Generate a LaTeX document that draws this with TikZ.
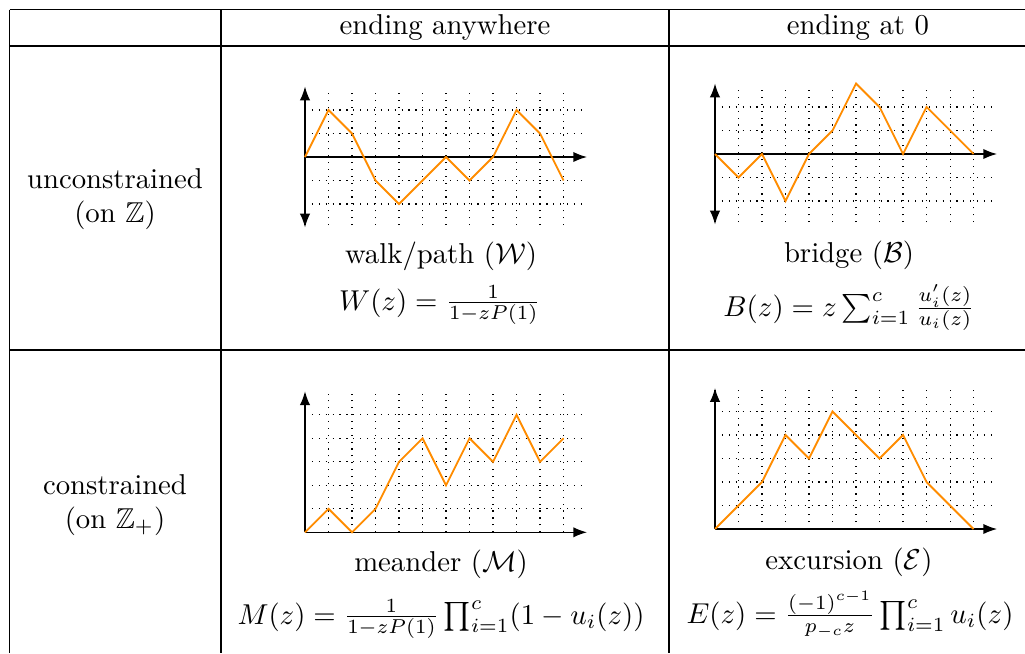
\documentclass[tikz,border=0pt]{standalone}
\usepackage{amsmath,amssymb}
\usetikzlibrary{arrows.meta}
\definecolor{walkorange}{RGB}{255,140,0}
\begin{document}
\begin{tikzpicture}[x=0.348pt,y=-0.348pt,
  rule/.style={line width=0.4pt},
  gridline/.style={dotted, line width=0.4pt, step=1},
  axis/.style={line width=0.5pt, -{Latex[length=4.8pt,width=3.6pt]}},
  axisboth/.style={line width=0.5pt, {Latex[length=4.8pt,width=3.6pt]}-{Latex[length=4.8pt,width=3.6pt]}},
  walkline/.style={walkorange, line width=0.65pt},
  lbl/.style={anchor=base, inner sep=0pt},
  plotunit/.style={x=8.18pt, y=8.18pt}]
\useasboundingbox (0,0) rectangle (1025,653);
% table rules
\coordinate (tl) at (9.5,9.5);
\coordinate (tr) at (1025,9.5);
\draw[rule] (tl) -- (tr);
\draw[rule] (9.5,46) -- (1025,46);
\draw[rule] (9.5,350) -- (1025,350);
\draw[rule] (9.5,9.5) -- (9.5,653);
\draw[rule] (221,9.5) -- (221,653);
\draw[rule] (669,9.5) -- (669,653);
% headers
\node[lbl] (h1) at (445,34) {ending anywhere};
\node[lbl] (h2) at (858,34) {ending at 0};
\node[align=center, inner sep=0pt] (r1) at (115,199) {unconstrained\\(on $\mathbb{Z}$)};
\node[align=center, inner sep=0pt] (r2) at (115,505) {constrained\\(on $\mathbb{Z}_+$)};
% walk
\begin{scope}[shift={(305,157)}, plotunit]
\draw[gridline] (0,-2.9) grid (11.8,2.9);
\draw[axis] (0,0) -- (12,0);
\draw[axisboth] (0,-3) -- (0,3);
\draw[walkline] (0,0) -- (1,2) -- (2,1) -- (3,-1) -- (4,-2) -- (5,-1) -- (6,0) -- (7,-1) -- (8,0) -- (9,2) -- (10,1) -- (11,-1);
\end{scope}
\node[lbl] (wl) at (441,263) {walk/path ($\mathcal{W}$)};
\node[lbl] (wf) at (440,310) {$W(z) = \frac{1}{1-zP(1)}$};
% bridge
\begin{scope}[shift={(715,154)}, plotunit]
\draw[gridline] (0,-2.9) grid (11.8,2.9);
\draw[axis] (0,0) -- (12,0);
\draw[axisboth] (0,-3) -- (0,3);
\draw[walkline] (0,0) -- (1,-1) -- (2,0) -- (3,-2) -- (4,0) -- (5,1) -- (6,3) -- (7,2) -- (8,0) -- (9,2) -- (10,1) -- (11,0);
\end{scope}
\node[lbl] (bl) at (849,262) {bridge ($\mathcal{B}$)};
\node[lbl] (bf) at (849,316) {$B(z) = z\sum_{i=1}^{c} \frac{u_i'(z)}{u_i(z)}$};
% meander
\begin{scope}[shift={(305,532.3)}, plotunit]
\draw[gridline] (0,0) grid (11.8,5.9);
\draw[axis] (0,0) -- (12,0);
\draw[axis] (0,0) -- (0,6);
\draw[walkline] (0,0) -- (1,1) -- (2,0) -- (3,1) -- (4,3) -- (5,4) -- (6,2) -- (7,4) -- (8,3) -- (9,5) -- (10,3) -- (11,4);
\end{scope}
\node[lbl] (ml) at (441,571) {meander ($\mathcal{M}$)};
\node[lbl] (mf) at (441,624) {$M(z) = \frac{1}{1-zP(1)}\prod_{i=1}^{c}(1-u_i(z))$};
% excursion
\begin{scope}[shift={(715,529)}, plotunit]
\draw[gridline] (0,0) grid (11.8,5.9);
\draw[axis] (0,0) -- (12,0);
\draw[axis] (0,0) -- (0,6);
\draw[walkline] (0,0) -- (2,2) -- (3,4) -- (4,3) -- (5,5) -- (7,3) -- (8,4) -- (9,2) -- (11,0);
\end{scope}
\node[lbl] (el) at (849,569) {excursion ($\mathcal{E}$)};
\node[lbl] (ef) at (850,623) {$E(z) = \frac{(-1)^{c-1}}{p_{-c}z}\prod_{i=1}^{c} u_i(z)$};
\end{tikzpicture}
\end{document}
